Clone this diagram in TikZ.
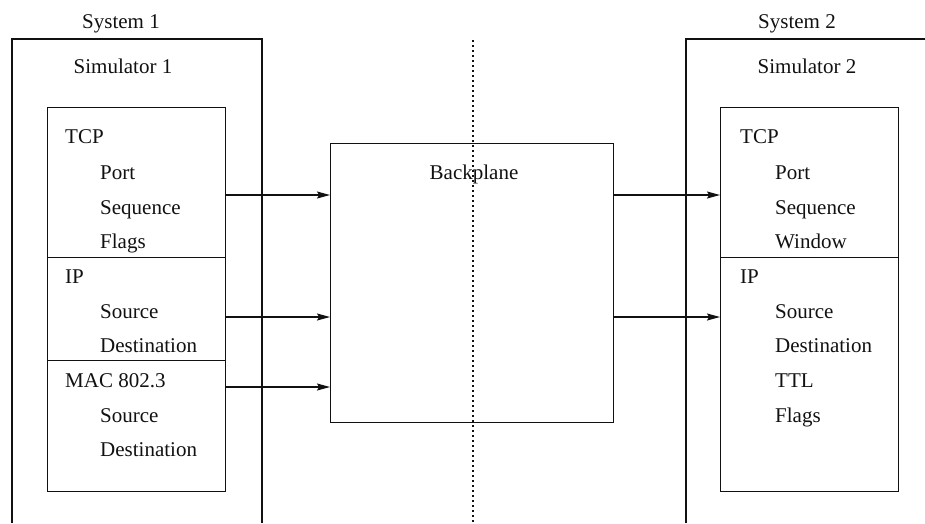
\documentclass[tikz,border=0pt]{standalone}
\usepackage{fontspec}
\setmainfont{Liberation Serif}
\usepackage{tikz}
\usepackage{xcolor}
\usetikzlibrary{arrows.meta,positioning,calc}

\begin{document}
\begin{tikzpicture}[x=1pt,y=-1pt]

	% ============================================================
	% COLORS
	% ============================================================
	\definecolor{ink}{HTML}{111111}

	% ============================================================
	% STYLES
	% ============================================================
	\tikzset{
		layer/.style={
			draw=ink,
			line width=1.3pt,
			anchor=north west,
			inner sep=0pt,
			minimum width=178pt
		},
	bplane/.style={draw=ink, line width=1.3pt, anchor=north west, inner sep=0pt,
		minimum width=283pt, minimum height=279pt},
	sysline/.style={draw=ink, line width=1.3pt},
	divider/.style={draw=ink, line width=1.5pt, dash pattern=on 1.5pt off 3.5pt},
	arr/.style={-{Stealth[length=13pt,width=7pt,inset=2pt]},line width=1.3pt,draw=ink},
	lbl/.style={font=\fontsize{21}{25}\selectfont,text=ink,inner sep=0pt,anchor=base},
	fld/.style={font=\fontsize{21}{25}\selectfont,text=ink,inner sep=0pt,anchor=base west}
	}

	\useasboundingbox (0,0) rectangle (925,523);

	% ============================================================
	% SYSTEM FRAMES (open at the bottom)
	% ============================================================
	\draw[sysline] (12,523) |- (262,39) -- (262,523);
	\draw[sysline] (686,523) |- (925,39);

	\node[lbl] (sys1) at (121,28) {System 1};
	\node[lbl] (sim1) at (123,73) {Simulator 1};
	\node[lbl] (sys2) at (797,28) {System 2};
	\node[lbl] (sim2) at (807,73) {Simulator 2};

	% ============================================================
	% NETWORK DIVIDER
	% ============================================================
	\draw[divider] (473,40) -- (473,523);

	% ============================================================
	% LEFT STACK - SIMULATOR 1
	% ============================================================
	\node[layer, minimum height=150pt] (tcpA) at (47,107) {};
	\node[layer, minimum height=103pt] (ipA)  at (47,257) {};
	\node[layer, minimum height=131pt] (macA) at (47,360) {};

	\node[fld] (tcpAt)  at (65,143)  {TCP};
	\node[fld] (portA)  at (100,179) {Port};
	\node[fld] (seqA)   at (100,214) {Sequence};
	\node[fld] (flagA)  at (100,248) {Flags};
	\node[fld] (ipAt)   at (65,283)  {IP};
	\node[fld] (srcA)   at (100,318) {Source};
	\node[fld] (dstA)   at (100,352) {Destination};
	\node[fld] (macAt)  at (65,387)  {MAC 802.3};
	\node[fld] (msrcA)  at (100,422) {Source};
	\node[fld] (mdstA)  at (100,456) {Destination};

	% ============================================================
	% BACKPLANE
	% ============================================================
	\node[bplane] (backplane) at (330,143) {};
	\node[lbl] (bpt) at (474,179) {Backplane};

	% ============================================================
	% RIGHT STACK - SIMULATOR 2
	% ============================================================
	\node[layer, minimum height=150pt] (tcpB) at (720,107) {};
	\node[layer, minimum height=234pt] (ipB)  at (720,257) {};

	\node[fld] (tcpBt)  at (740,143) {TCP};
	\node[fld] (portB)  at (775,179) {Port};
	\node[fld] (seqB)   at (775,214) {Sequence};
	\node[fld] (winB)   at (775,248) {Window};
	\node[fld] (ipBt)   at (740,283) {IP};
	\node[fld] (srcB)   at (775,318) {Source};
	\node[fld] (dstB)   at (775,352) {Destination};
	\node[fld] (ttlB)   at (775,387) {TTL};
	\node[fld] (flagB)  at (775,422) {Flags};

	% ============================================================
	% ARROWS - INTO BACKPLANE
	% ============================================================
	\coordinate (tx1) at (tcpA.east |- 0,195);
	\coordinate (tx2) at (ipA.east |- 0,317);
	\coordinate (tx3) at (macA.east |- 0,387);
	\draw[arr] (tx1) -- (tx1 -| backplane.west);
	\draw[arr] (tx2) -- (tx2 -| backplane.west);
	\draw[arr] (tx3) -- (tx3 -| backplane.west);

	% ============================================================
	% ARROWS - OUT OF BACKPLANE
	% ============================================================
	\coordinate (rx1) at (backplane.east |- tx1);
	\coordinate (rx2) at (backplane.east |- tx2);
	\draw[arr] (rx1) -- (rx1 -| tcpB.west);
	\draw[arr] (rx2) -- (rx2 -| ipB.west);

\end{tikzpicture}
\end{document}
